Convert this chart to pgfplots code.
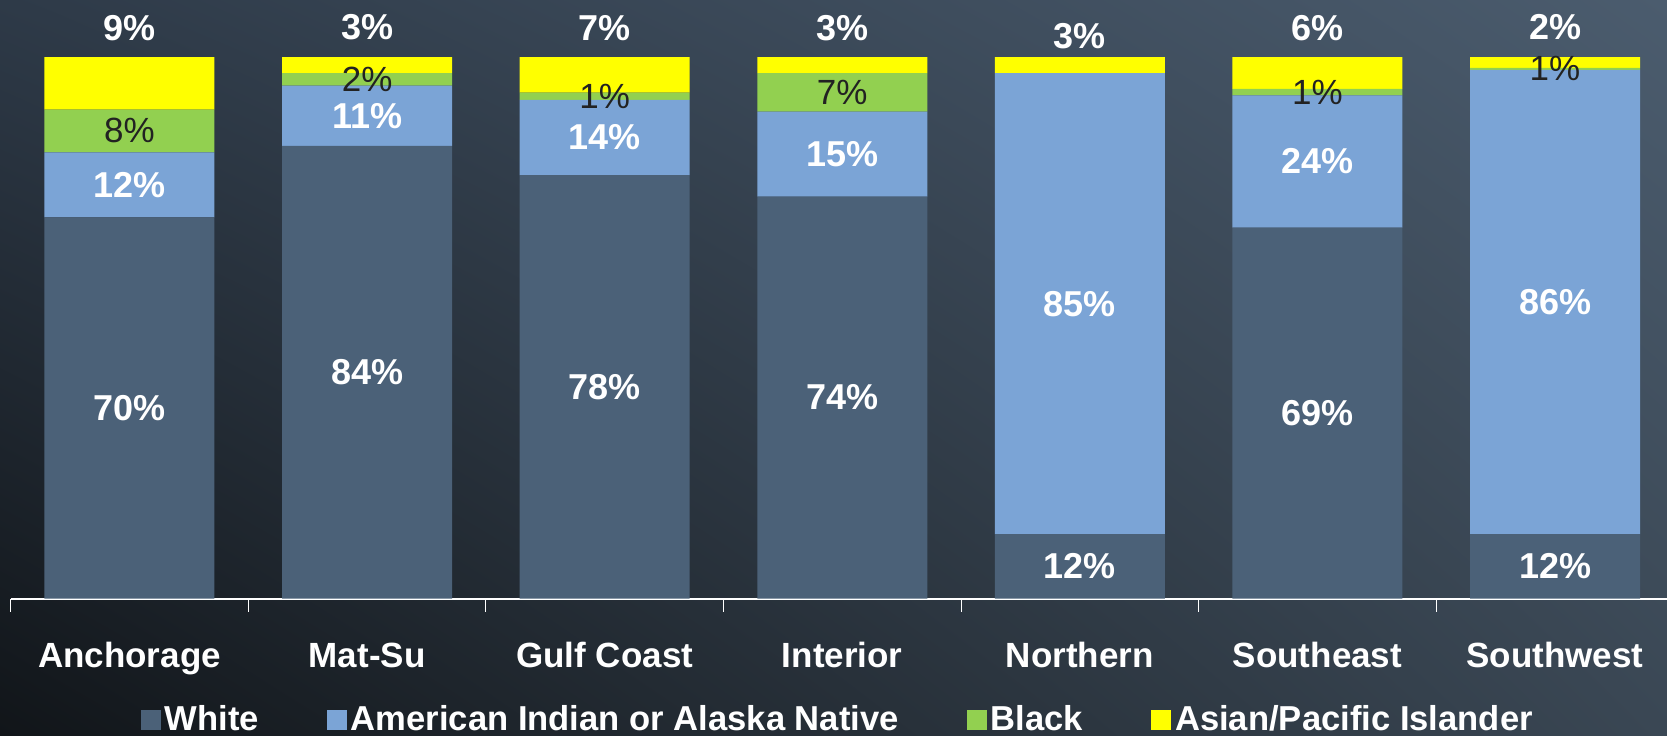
\documentclass[border=0pt]{standalone}
\usepackage{fontspec}
\setmainfont{Liberation Sans}
\usepackage{pgfplots}
\usepackage{pgfplotstable}
\pgfplotsset{compat=1.18}
\usetikzlibrary{shadings,backgrounds}
\definecolor{cWhite}{RGB}{75,97,120}
\definecolor{cAIAN}{RGB}{123,164,214}
\definecolor{cBlack}{RGB}{146,208,80}
\definecolor{cAsian}{RGB}{255,255,0}
\definecolor{cDark}{RGB}{34,34,34}
\definecolor{bgUL}{RGB}{46,58,72}
\definecolor{bgUR}{RGB}{75,92,110}
\definecolor{bgLL}{RGB}{17,21,25}
\definecolor{bgLR}{RGB}{58,71,84}

\pgfplotstableread{
x  w     wl  a     al  b    bl  s    sl  toff
0  70.4  70  12.0  12  7.9  8   9.7  9   8.5
1  83.6  84  11.1  11  2.3  2   3.0  3   9.0
2  78.2  78  13.9  14  1.3  1   6.6  7   8.5
3  74.2  74  15.7  15  7.1  7   3.0  3   8.5
4  11.9  12  85.1  85  0.0  0   3.0  3   4.5
5  68.5  69  24.4  24  1.2  1   5.9  6   8.5
6  11.9  12  85.7  86  0.4  1   2.0  2   9.0
}\data

\begin{document}
\begin{tikzpicture}
\begin{axis}[
  anchor=south west, at={(0pt,0pt)},
  scale only axis, width=828pt, height=270.75pt,
  xmin=-0.5, xmax=6.47, ymin=0, ymax=100,
  ybar stacked, bar width=85pt,
  axis x line=bottom, axis y line=none,
  x axis line style={-, white, line width=1pt},
  xtick={0,...,6},
  xticklabels={Anchorage, Mat-Su, Gulf Coast, Interior, Northern, Southeast, Southwest},
  major tick length=0pt,
  minor xtick={-0.5,0.5,...,5.5},
  minor x tick style={white, line width=0.5pt},
  minor tick length=6.5pt,
  tick align=outside,
  xticklabel style={font=\fontsize{17.5}{20}\selectfont\bfseries, text=white, anchor=base, yshift=-34.3pt},
  clip=false,
  point meta=explicit symbolic,
  nodes near coords={\pgfplotspointmeta\%},
  legend columns=4,
  legend image code/.code={\fill[#1] (0pt,-5pt) rectangle (10pt,5pt);},
  legend style={draw=none, fill=none, text=white, font=\fontsize{17.3}{19}\selectfont\bfseries,
    at={(0.5,-0.2235)}, anchor=center,
    /tikz/every even column/.append style={column sep=32pt}},
]
\addplot[fill=cWhite, draw=none,
  every node near coord/.append style={anchor=center, text=white, font=\fontsize{18}{20}\selectfont\bfseries}]
  table[x=x, y=w, meta=wl] {\data};
\addlegendentry{White}
\addplot[fill=cAIAN, draw=none,
  every node near coord/.append style={anchor=center, text=white, font=\fontsize{18}{20}\selectfont\bfseries}]
  table[x=x, y=a, meta=al] {\data};
\addlegendentry{American Indian or Alaska Native}
\addplot[fill=cBlack, draw=none,
  every node near coord/.append style={anchor=center, text=cDark, font=\fontsize{17.5}{20}\selectfont}]
  table[x=x, y=b, meta=bl] {\data};
\addlegendentry{Black}
\addplot[fill=cAsian, draw=none,
  visualization depends on={\thisrow{toff} \as \t},
  visualization depends on={\thisrow{s} \as \sh},
  every node near coord/.append style={anchor=base, text=white, font=\fontsize{18}{20}\selectfont\bfseries, yshift={\sh*1.35375pt+\t*1pt}}]
  table[x=x, y=s, meta=sl] {\data};
\addlegendentry{Asian/Pacific Islander}
\end{axis}
\begin{scope}[on background layer]
\shade[upper left=bgUL, upper right=bgUR, lower left=bgLL, lower right=bgLR] (-5.35pt,-68.25pt) rectangle (828.15pt,299.25pt);
\end{scope}
\pgfresetboundingbox
\path (-5.35pt,-68.25pt) rectangle (828.15pt,299.25pt);
\end{tikzpicture}
\end{document}
